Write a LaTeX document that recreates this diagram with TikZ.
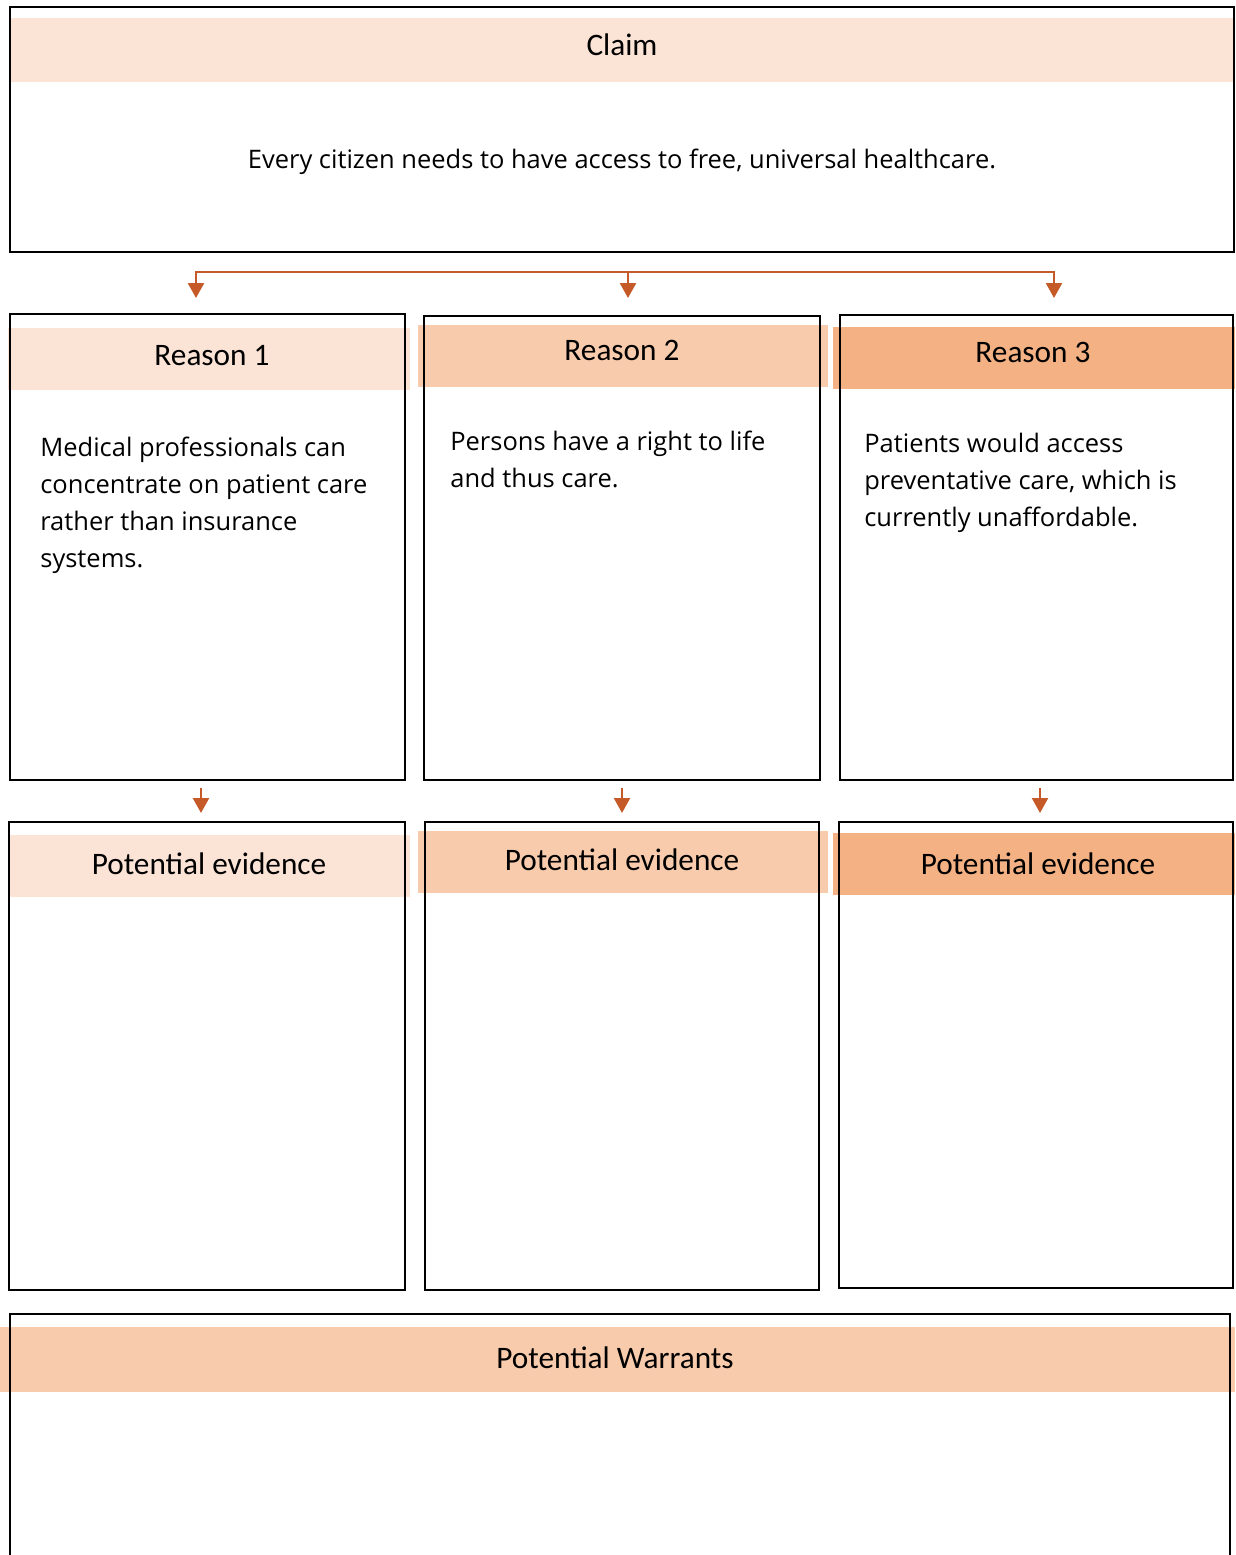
\documentclass[tikz,border=0pt]{standalone}
\usepackage{fontspec}
\setmainfont{Carlito}
\newfontfamily\bodyfont{Open Sans}
\usetikzlibrary{arrows.meta,positioning,backgrounds}
\definecolor{bandlight}{HTML}{FBE3D6}
\definecolor{bandmid}{HTML}{F7CBAC}
\definecolor{banddark}{HTML}{F4B183}
\definecolor{flowred}{HTML}{C55A28}
\newcommand{\pxu}{0.02cm}
\tikzset{
  panel/.style={draw=black,line width=1.1pt,inner sep=0pt},
  band/.style={inner sep=0pt,minimum height=62*\pxu},
  headtxt/.style={inner sep=0pt,font=\fontsize{17.8}{21}\selectfont},
  bodytxt/.style={inner sep=0pt,anchor=north west,align=left,font=\bodyfont\fontsize{14.5}{21}\selectfont},
  flow/.style={-{Triangle[width=0.32cm,length=0.3cm]},flowred,line width=1.3pt},
}

\begin{document}
\begin{tikzpicture}[x=0.02cm,y=-0.02cm]
  \clip (0,0) rectangle (1235,1555);
  % colour bands behind the headings
  \node[band,fill=bandlight,minimum width=1225*\pxu,minimum height=64*\pxu] (bclaim) at (622,50) {};
  \node[band,fill=bandlight,minimum width=402*\pxu] (breason1) at (209,359) {};
  \node[band,fill=bandmid,minimum width=410*\pxu] (breason2) at (623,356) {};
  \node[band,fill=banddark,minimum width=402*\pxu] (breason3) at (1034,358) {};
  \node[band,fill=bandlight,minimum width=402*\pxu] (bevid1) at (209,866) {};
  \node[band,fill=bandmid,minimum width=410*\pxu] (bevid2) at (623,862) {};
  \node[band,fill=banddark,minimum width=402*\pxu] (bevid3) at (1034,864) {};
  \node[band,fill=bandmid,minimum width=1235*\pxu,minimum height=65*\pxu] (bwarrant) at (617.5,1359.5) {};
  % panels
  \node[panel,minimum width=1224*\pxu,minimum height=245*\pxu] (claim) at (622,129.5) {};
  \node[panel,minimum width=395*\pxu,minimum height=466*\pxu] (reason1) at (207.5,547) {};
  \node[panel,minimum width=396*\pxu,minimum height=464*\pxu] (reason2) at (622,548) {};
  \node[panel,minimum width=393*\pxu,minimum height=465*\pxu] (reason3) at (1036.5,547.5) {};
  \node[panel,minimum width=396*\pxu,minimum height=468*\pxu] (evid1) at (207,1056) {};
  \node[panel,minimum width=394*\pxu,minimum height=468*\pxu] (evid2) at (622,1056) {};
  \node[panel,minimum width=394*\pxu,minimum height=466*\pxu] (evid3) at (1036,1055) {};
  \node[panel,minimum width=1220*\pxu,minimum height=280*\pxu] (warrant) at (620,1454) {};
  % headings
  \node[headtxt] (hclaim) at (622,45) {Claim};
  \node[headtxt] (hreason1) at (212,356) {Reason 1};
  \node[headtxt] (hreason2) at (622,350) {Reason 2};
  \node[headtxt] (hreason3) at (1033,352) {Reason 3};
  \node[headtxt] (hevid1) at (209,864) {Potential evidence};
  \node[headtxt] (hevid2) at (622,860) {Potential evidence};
  \node[headtxt] (hevid3) at (1038,864) {Potential evidence};
  \node[headtxt] (hwarrant) at (615,1358) {Potential Warrants};
  % texts
  \node[inner sep=0pt,font=\bodyfont\fontsize{14.5}{21}\selectfont] (tclaim) at (622,162)
    {Every citizen needs to have access to free, universal healthcare.};
  \node[bodytxt] (treason1) at (40,437) {Medical professionals can\\concentrate on patient care\\rather than insurance\\systems.};
  \node[bodytxt] (treason2) at (450,431) {Persons have a right to life\\and thus care.};
  \node[bodytxt] (treason3) at (864,433) {Patients would access\\preventative care, which is\\currently unaffordable.};
  % connectors
  \coordinate (hub) at (628,272);
  \coordinate (in1) at (196,298);
  \coordinate (in2) at (628,298);
  \coordinate (in3) at (1054,298);
  \draw[flow] (hub) -| (in1);
  \draw[flow] (hub) -- (in2);
  \draw[flow] (hub) -| (in3);
  \coordinate (out1) at (201,788);
  \coordinate (out2) at (622,788);
  \coordinate (out3) at (1040,788);
  \draw[flow] (out1) -- ++(0,25);
  \draw[flow] (out2) -- ++(0,25);
  \draw[flow] (out3) -- ++(0,25);
\end{tikzpicture}
\end{document}
